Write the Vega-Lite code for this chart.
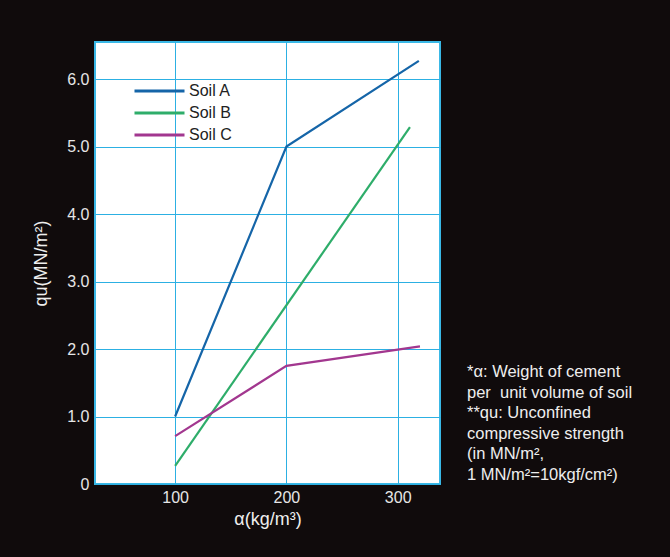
{
  "$schema": "https://vega.github.io/schema/vega-lite/v6.json",
  "width": 345,
  "height": 442,
  "autosize": {"type": "none"},
  "padding": {"left": 95, "top": 42, "right": 230, "bottom": 73},
  "background": "#100b0c",
  "config": {
    "font": "Liberation Sans",
    "view": {"fill": "white", "stroke": "#3ab8e6", "strokeWidth": 2}
  },
  "data": {
    "values": [
      {"soil": "Soil A", "a": 100, "q": 1.0},
      {"soil": "Soil A", "a": 200, "q": 5.0},
      {"soil": "Soil A", "a": 319, "q": 6.27},
      {"soil": "Soil B", "a": 100, "q": 0.27},
      {"soil": "Soil B", "a": 311, "q": 5.29},
      {"soil": "Soil C", "a": 100, "q": 0.71},
      {"soil": "Soil C", "a": 200, "q": 1.75},
      {"soil": "Soil C", "a": 320, "q": 2.04}
    ]
  },
  "mark": {"type": "line", "strokeWidth": 2.2},
  "encoding": {
    "x": {
      "field": "a",
      "type": "quantitative",
      "scale": {"domain": [28, 338], "nice": false, "zero": false},
      "axis": {
        "values": [100, 200, 300],
        "title": "α(kg/m³)",
        "titleColor": "#eeeeee",
        "titleFontSize": 18,
        "titleFontWeight": "normal",
        "titlePadding": 5,
        "labelColor": "#e6e6e6",
        "labelFontSize": 16,
        "labelPadding": 5,
        "domain": false,
        "ticks": false,
        "grid": true,
        "gridColor": "#2cb0e3",
        "gridWidth": 1,
        "gridOpacity": 1
      }
    },
    "y": {
      "field": "q",
      "type": "quantitative",
      "scale": {"domain": [0, 6.55], "nice": false},
      "axis": {
        "values": [0, 1, 2, 3, 4, 5, 6],
        "labelExpr": "datum.value == 0 ? '0' : format(datum.value, '.1f')",
        "title": "qu(MN/m²)",
        "titleColor": "#eeeeee",
        "titleFontSize": 18,
        "titleFontWeight": "normal",
        "titlePadding": 16,
        "labelColor": "#e6e6e6",
        "labelFontSize": 16,
        "labelPadding": 6,
        "domain": false,
        "ticks": false,
        "grid": true,
        "gridColor": "#2cb0e3",
        "gridWidth": 1,
        "gridOpacity": 1
      }
    },
    "color": {
      "field": "soil",
      "type": "nominal",
      "scale": {
        "domain": ["Soil A", "Soil B", "Soil C"],
        "range": ["#1565a8", "#2ead6a", "#a2378f"]
      },
      "legend": {
        "title": null,
        "orient": "none",
        "legendX": 38,
        "legendY": 38,
        "symbolType": "stroke",
        "symbolSize": 2500,
        "symbolStrokeWidth": 3,
        "clipHeight": 22,
        "rowPadding": 0,
        "labelFontSize": 16,
        "labelColor": "#222222",
        "labelOffset": 3
      }
    }
  },
  "title": {
    "text": [
      "*α: Weight of cement",
      "per \u00a0unit volume of soil",
      "**qu: Unconfined",
      "compressive strength",
      "\u00a0(in MN/m²,",
      "1 MN/m²=10kgf/cm²)"
    ],
    "orient": "bottom",
    "anchor": "end",
    "frame": "group",
    "align": "left",
    "dx": 27,
    "dy": -168,
    "color": "#eeeeee",
    "fontSize": 16.5,
    "fontWeight": "normal",
    "lineHeight": 20.5
  }
}
